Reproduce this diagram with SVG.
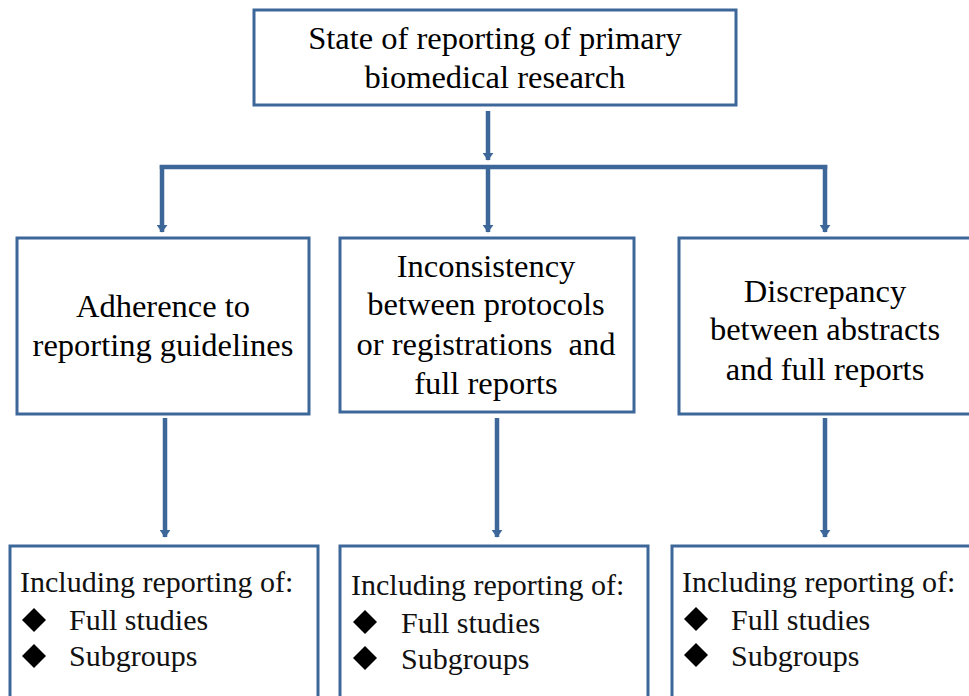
<svg xmlns="http://www.w3.org/2000/svg" width="969" height="696" viewBox="0 0 969 696">
<defs>
<style>
.box{fill:#fff;stroke:#3D6699;stroke-width:3}
.ln{stroke:#3D6699;stroke-width:4.5;fill:none}
.t{font-family:"Liberation Serif","Times New Roman",serif;font-size:32.5px;fill:#000;text-anchor:middle}
.b{font-family:"Liberation Serif","Times New Roman",serif;font-size:30px;fill:#111}
.d{fill:#000}
</style>
<marker id="ah" viewBox="0 0 10 10" refX="9" refY="5" markerWidth="8" markerHeight="11" preserveAspectRatio="none" orient="auto" markerUnits="userSpaceOnUse">
<path d="M0,0 L10,5 L0,10 z" fill="#3D6699"/>
</marker>
<path id="dia" d="M0,-12 L12,0 L0,12 L-12,0 z"/>
</defs>
<rect width="969" height="696" fill="#fff"/>
<g id="connectors">
<line class="ln" x1="488" y1="111" x2="488" y2="160" marker-end="url(#ah)"/>
<polyline class="ln" points="162,169 162,167 825,167 825,169"/>
<line class="ln" x1="162" y1="165" x2="162" y2="232" marker-end="url(#ah)"/>
<line class="ln" x1="488" y1="165" x2="488" y2="232" marker-end="url(#ah)"/>
<line class="ln" x1="825" y1="165" x2="825" y2="232" marker-end="url(#ah)"/>
<line class="ln" x1="165" y1="418" x2="165" y2="537" marker-end="url(#ah)"/>
<line class="ln" x1="497" y1="418" x2="497" y2="537" marker-end="url(#ah)"/>
<line class="ln" x1="825" y1="418" x2="825" y2="537" marker-end="url(#ah)"/>
</g>
<g id="top">
<rect class="box" x="254" y="10" width="482" height="95"/>
<text class="t" x="495" y="49">State of reporting of primary</text>
<text class="t" x="495" y="88">biomedical research</text>
</g>
<g id="adherence">
<rect class="box" x="17" y="238" width="292" height="176"/>
<text class="t" x="163" y="317">Adherence to</text>
<text class="t" x="163" y="356">reporting guidelines</text>
</g>
<g id="inconsistency">
<rect class="box" x="340" y="238" width="294" height="174"/>
<text class="t" x="486" y="277">Inconsistency</text>
<text class="t" x="486" y="315">between protocols</text>
<text class="t" x="486" y="355" xml:space="preserve">or registrations  and</text>
<text class="t" x="486" y="394">full reports</text>
</g>
<g id="discrepancy">
<rect class="box" x="679" y="238" width="300" height="176"/>
<text class="t" x="825" y="302">Discrepancy</text>
<text class="t" x="825" y="340">between abstracts</text>
<text class="t" x="825" y="380">and full reports</text>
</g>
<g id="bottom-left">
<rect class="box" x="10" y="546" width="308" height="160"/>
<text class="b" x="20" y="592">Including reporting of:</text>
<use href="#dia" class="d" x="34" y="620"/>
<text class="b" x="69" y="630">Full studies</text>
<use href="#dia" class="d" x="34" y="656"/>
<text class="b" x="69" y="666">Subgroups</text>
</g>
<g id="bottom-center">
<rect class="box" x="340" y="546" width="308" height="160"/>
<text class="b" x="351" y="595">Including reporting of:</text>
<use href="#dia" class="d" x="365" y="622"/>
<text class="b" x="401" y="633">Full studies</text>
<use href="#dia" class="d" x="365" y="658"/>
<text class="b" x="401" y="669">Subgroups</text>
</g>
<g id="bottom-right">
<rect class="box" x="672" y="546" width="310" height="160"/>
<text class="b" x="682" y="592">Including reporting of:</text>
<use href="#dia" class="d" x="696" y="619"/>
<text class="b" x="731" y="630">Full studies</text>
<use href="#dia" class="d" x="696" y="655"/>
<text class="b" x="731" y="666">Subgroups</text>
</g>
</svg>
